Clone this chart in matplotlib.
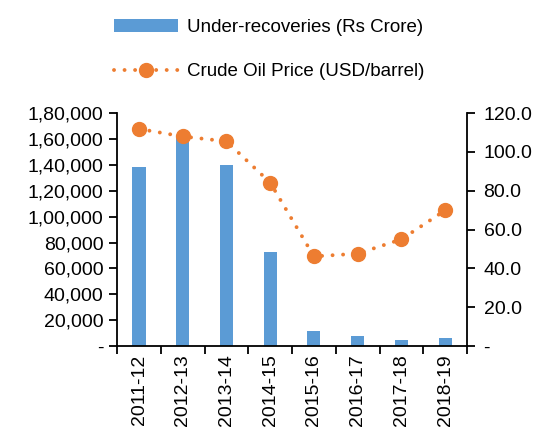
import numpy as np
import matplotlib.pyplot as plt
from matplotlib.ticker import FuncFormatter

plt.rcParams['font.family'] = ['Liberation Sans', 'DejaVu Sans']

years = ['2011-12', '2012-13', '2013-14', '2014-15', '2015-16', '2016-17', '2017-18', '2018-19']
under_recoveries = [138541, 161029, 139869, 72314, 11800, 7700, 4600, 5900]
oil_price = [111.9, 108.0, 105.5, 84.2, 46.2, 47.6, 55.0, 69.9]

bar_color = '#5B9BD5'
line_color = '#ED7D31'

fig = plt.figure(figsize=(5.5, 4.32), dpi=100)
ax = fig.add_axes([0.213, 0.199, 0.636, 0.539])
ax2 = ax.twinx()

x = np.arange(len(years))
b = ax.bar(x, under_recoveries, width=0.3, color=bar_color, label='Under-recoveries (Rs Crore)', zorder=2)
l, = ax2.plot(x, oil_price, color=line_color, linewidth=2.8, linestyle=(0, (0.01, 2.7)),
              dash_capstyle='round', marker='o', markersize=10, label='Crude Oil Price (USD/barrel)')

ax.set_xlim(-0.5, len(years) - 0.5)
ax.set_ylim(0, 180000)
ax2.set_ylim(0, 120)
ax.set_yticks(np.arange(0, 180001, 20000))
ax2.set_yticks(np.arange(0, 121, 20))


def indian(v, pos):
    if v == 0:
        return '-'
    v = int(v)
    s = str(v)
    last3 = s[-3:]
    rest = s[:-3]
    parts = []
    while len(rest) > 2:
        parts.insert(0, rest[-2:])
        rest = rest[:-2]
    if rest:
        parts.insert(0, rest)
    return ','.join(parts + [last3])


ax.yaxis.set_major_formatter(FuncFormatter(indian))
ax2.yaxis.set_major_formatter(FuncFormatter(lambda v, p: '-' if v == 0 else f'{v:.1f}'))

ax.set_xticks(np.arange(-0.5, len(years)))
ax.set_xticklabels([])
ax.set_xticks(x, minor=True)
ax.set_xticklabels(years, minor=True, rotation=90)
ax.tick_params(axis='x', which='minor', length=0, pad=6, labelsize=14)
ax.tick_params(axis='x', which='major', length=6, width=1.3, direction='out')
ax.tick_params(axis='y', length=6, width=1.3, labelsize=14, pad=4)
ax2.tick_params(axis='y', length=6, width=1.3, labelsize=14, pad=6)

for a in (ax, ax2):
    a.spines['top'].set_visible(False)
    for s in ('left', 'right', 'bottom'):
        a.spines[s].set_linewidth(1.3)
ax.spines['right'].set_visible(False)
ax2.spines['left'].set_visible(False)
ax2.spines['bottom'].set_visible(False)

fig.legend(handles=[b, l], loc='upper center', bbox_to_anchor=(0.49, 0.995), frameon=False,
           fontsize=13.5, labelspacing=1.45, handlelength=3.4, handletextpad=0.5)

fig.savefig('out.png', dpi=100)
